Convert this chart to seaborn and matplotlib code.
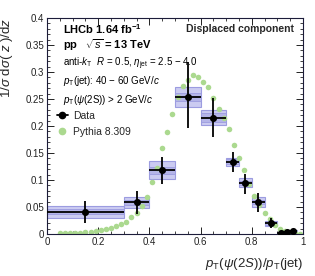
import matplotlib
matplotlib.use("Agg")
import matplotlib.pyplot as plt
from matplotlib.lines import Line2D
from matplotlib.ticker import MultipleLocator
import numpy as np
import pandas as pd
import seaborn as sns

# LHCb measurement, displaced psi(2S) component
bin_lo = [0.0, 0.3, 0.4, 0.5, 0.6, 0.7, 0.75, 0.8, 0.85, 0.9, 0.925, 0.95]
bin_hi = [0.3, 0.4, 0.5, 0.6, 0.7, 0.75, 0.8, 0.85, 0.9, 0.925, 0.95, 0.975]
data_y = [0.041, 0.0587, 0.1185, 0.254, 0.2155, 0.134, 0.095, 0.0587, 0.020, 0.002, 0.003, 0.005]
stat_dn = [0.020, 0.0217, 0.0265, 0.058, 0.0355, 0.019, 0.020, 0.0177, 0.0095, 0.002, 0.002, 0.002]
stat_up = [0.0207, 0.0213, 0.0245, 0.065, 0.0365, 0.018, 0.017, 0.0178, 0.009, 0.002, 0.002, 0.002]
syst_tot = [0.011, 0.0097, 0.017, 0.019, 0.0145, 0.0075, 0.008, 0.0095, 0.005, 0.0015, 0.0015, 0.0015]
syst_inner = [0.0047, 0.0045, 0.0065, 0.007, 0.008, 0.004, 0.004, 0.004, 0.0025, 0.0008, 0.0008, 0.0008]

# Pythia 8.309 prediction
pythia_x = [0.05, 0.07, 0.09, 0.11, 0.13, 0.15, 0.17, 0.19, 0.21, 0.23, 0.25, 0.27,
            0.29, 0.31, 0.33, 0.35, 0.37, 0.39, 0.41, 0.43, 0.45, 0.47, 0.49, 0.51,
            0.53, 0.55, 0.57, 0.59, 0.61, 0.63, 0.65, 0.67, 0.69, 0.71, 0.73, 0.75,
            0.77, 0.79, 0.81, 0.83, 0.85, 0.87, 0.89, 0.91, 0.93, 0.95, 0.97, 0.99]
pythia_y = [0.001, 0.001, 0.001, 0.002, 0.002, 0.003, 0.004, 0.005, 0.007, 0.009, 0.011, 0.014,
            0.018, 0.023, 0.031, 0.039, 0.052, 0.068, 0.097, 0.122, 0.160, 0.189, 0.223, 0.254,
            0.274, 0.285, 0.294, 0.290, 0.282, 0.273, 0.251, 0.231, 0.214, 0.194, 0.165, 0.140,
            0.119, 0.093, 0.070, 0.054, 0.038, 0.027, 0.017, 0.010, 0.006, 0.003, 0.001, 0.0005]

sns.set_style("ticks")
plt.rcParams['font.family'] = ['Liberation Sans', 'DejaVu Sans']
plt.rcParams['mathtext.fontset'] = 'custom'
plt.rcParams['mathtext.rm'] = 'Liberation Sans'
plt.rcParams['mathtext.it'] = 'Liberation Sans:italic'
plt.rcParams['mathtext.bf'] = 'Liberation Sans:bold'

lo = np.array(bin_lo)
hi = np.array(bin_hi)
yv = np.array(data_y)
centres = (lo + hi) / 2
halfw = (hi - lo) / 2

meas = pd.DataFrame({'z': centres, 'y': yv})
pyth = pd.DataFrame({'z': pythia_x, 'y': pythia_y})

fig = plt.figure(figsize=(3.15, 2.76), dpi=100)
ax = fig.add_axes([47 / 315, 42 / 276, 256 / 315, 216 / 276])

# systematic boxes
ax.bar(lo, 2 * np.array(syst_tot), bottom=yv - np.array(syst_tot), width=hi - lo, align='edge',
       color='#cbcbf1', edgecolor='#9c9ce0', linewidth=0.8, zorder=1)
ax.bar(lo, 2 * np.array(syst_inner), bottom=yv - np.array(syst_inner), width=hi - lo, align='edge',
       color='#b4b4e8', edgecolor='#9c9ce0', linewidth=0.6, zorder=1.5)

sns.scatterplot(data=pyth, x='z', y='y', color='#abd98f', s=16, linewidth=0, ax=ax, zorder=2)

ax.errorbar(centres, yv, xerr=halfw, yerr=[stat_dn, stat_up], fmt='none',
            ecolor='black', elinewidth=1.3, capsize=0, zorder=3)
sns.scatterplot(data=meas, x='z', y='y', color='black', s=26, linewidth=0, ax=ax, zorder=4)

ax.set_xlim(0, 1)
ax.set_ylim(0, 0.4)
ax.xaxis.set_major_locator(MultipleLocator(0.2))
ax.xaxis.set_minor_locator(MultipleLocator(0.05))
ax.yaxis.set_major_locator(MultipleLocator(0.05))
ax.yaxis.set_minor_locator(MultipleLocator(0.01))
ax.xaxis.set_major_formatter(matplotlib.ticker.FuncFormatter(lambda v, p: f"{v:g}"))
ax.yaxis.set_major_formatter(matplotlib.ticker.FuncFormatter(lambda v, p: f"{v:g}"))
ax.tick_params(which='both', direction='in', top=True, right=True, labelsize=7, colors='#222', pad=2)
ax.tick_params(which='major', length=5, width=0.7)
ax.tick_params(which='minor', length=2.5, width=0.6)
for s in ax.spines.values():
    s.set_linewidth(0.8)
    s.set_color('#1c1c3a')

ax.set_xlabel(r"$p_{\rm T}(\psi(2S))/p_{\rm T}$(jet)", fontsize=9.5, ha='right')
ax.xaxis.set_label_coords(1.0, -0.1)
ax.set_ylabel(r"1/$\sigma$ d$\sigma$( $z$ )/d$z$", fontsize=9.5, ha='right')
ax.yaxis.set_label_coords(-0.125, 1.0)

tk = dict(transform=ax.transAxes, va='center', ha='left', color='black')
ax.text(0.062, 0.948, r"LHCb 1.64 fb$^{\mathbf{-1}}$", fontsize=8, fontweight='bold', **tk)
ax.text(0.062, 0.874, r"pp   $\sqrt{s}$ = 13 TeV", fontsize=8, fontweight='bold', **tk)
ax.text(0.062, 0.788, r"anti-$k_{\rm T}$  $R$ = 0.5, $\eta_{\rm jet}$ = 2.5 $-$ 4.0", fontsize=7, **tk)
ax.text(0.062, 0.708, r"$p_{\rm T}$(jet): 40 $-$ 60 GeV/$c$", fontsize=7, **tk)
ax.text(0.062, 0.622, r"$p_{\rm T}$($\psi$(2S)) > 2 GeV/$c$", fontsize=7, **tk)
ax.text(0.965, 0.948, "Displaced component", fontsize=7.5, fontweight='bold',
        transform=ax.transAxes, va='center', ha='right')

handles = [Line2D([], [], color='black', marker='o', markersize=4.5, linewidth=1.3),
           Line2D([], [], color='#abd98f', marker='o', markersize=4.5, linewidth=0)]
ax.legend(handles, ["Data", "Pythia 8.309"], loc='upper left', bbox_to_anchor=(0.04, 0.57),
          frameon=False, fontsize=7.5, handlelength=1.0, handletextpad=0.5,
          labelspacing=0.55, borderaxespad=0, borderpad=0)

plt.savefig("out.png", dpi=100)
